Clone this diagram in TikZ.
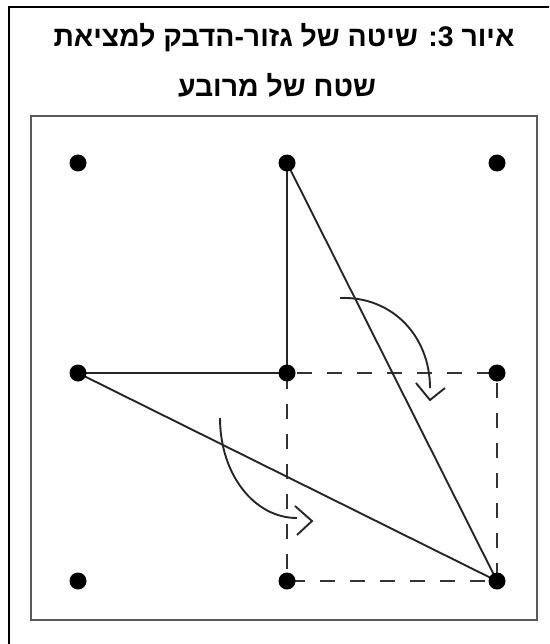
\documentclass[tikz,border=0pt]{standalone}
\usepackage{fontspec}
\newfontfamily\hebfont[Script=Hebrew]{Liberation Sans}
\TeXXeTstate=1
\begin{document}
\begin{tikzpicture}[x=1pt,y=-1pt,
  dot/.style={circle,fill=black,inner sep=0pt,minimum size=17pt},
  seg/.style={line width=1.9pt,draw=black!85},
  dashseg/.style={line width=1.9pt,draw=black!80,dash pattern=on 15pt off 15pt,dash phase=20pt},
  turn/.style={line width=1.9pt,draw=black!85},
  title/.style={font=\hebfont\bfseries\fontsize{28.4}{32}\selectfont,inner sep=0pt}]
\useasboundingbox (0,0) rectangle (549,644);
\begin{scope}
\clip (0,0) rectangle (549,644);
\draw[line width=2.5pt] (9,7) rectangle (560,660);
\end{scope}
\draw[line width=2pt,draw=black!65] (31,116) rectangle (537,620);
\node[title] (t1) at (284,38) {\beginR איור 3: שיטה של גזור-הדבק למציאת\endR};
\node[title] (t2) at (277,85) {\beginR שטח של מרובע\endR};
% grid points
\coordinate (p11) at (78,163);
\coordinate (p12) at (287,163);
\coordinate (p13) at (497,163);
\coordinate (p21) at (78,373);
\coordinate (p22) at (287,373);
\coordinate (p23) at (497,373);
\coordinate (p31) at (78,581);
\coordinate (p32) at (287,581);
\coordinate (p33) at (497,581);
% dashed square
\draw[dashseg] (p22) -- (p23) -- (p33) -- (p32) -- cycle;
% solid lines
\draw[seg] (p12) -- (p22);
\draw[seg] (p21) -- (p22);
\draw[seg] (p12) -- (p33);
\draw[seg] (p21) -- (p33);
% turning arrows
\coordinate (a1s) at (340,298);
\coordinate (a1e) at (430,388);
\draw[turn] (a1s) .. controls (392,296) and (430,336) .. (a1e);
\draw[turn] (416,383) -- (430,400) -- (445,388);
\coordinate (a2s) at (220,418);
\coordinate (a2e) at (297,518);
\draw[turn] (a2s) .. controls (220,474) and (254,518) .. (a2e);
\draw[turn] (295,506) -- (312,521) -- (297,535);
% dots
\foreach \p in {p11,p12,p13,p21,p22,p23,p31,p32,p33}
  \node[dot] (d\p) at (\p) {};
\end{tikzpicture}
\end{document}
